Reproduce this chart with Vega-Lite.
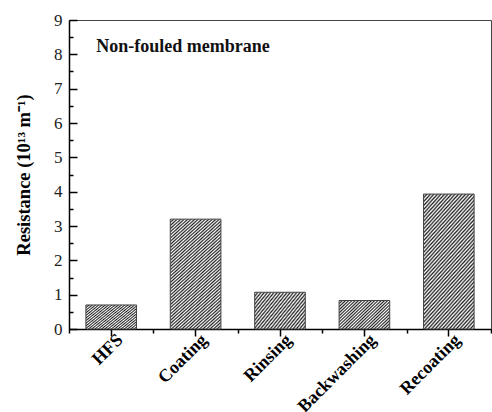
{
  "$schema": "https://vega.github.io/schema/vega-lite/v6.json",
  "width": 422,
  "height": 309,
  "autosize": "none",
  "padding": {"left": 69, "top": 20, "right": 1, "bottom": 83},
  "config": {"view": {"stroke": "#444", "strokeWidth": 1}, "font": "Liberation Serif"},
  "data": {"values": [
    {"step": "HFS", "resistance": 0.7},
    {"step": "Coating", "resistance": 3.2},
    {"step": "Rinsing", "resistance": 1.07},
    {"step": "Backwashing", "resistance": 0.83},
    {"step": "Recoating", "resistance": 3.93}
  ]},
  "layer": [
    {
      "mark": {"type": "bar", "opacity": 0, "width": {"band": 0.6}},
      "encoding": {
        "x": {"field": "step", "type": "nominal", "sort": null,
          "scale": {"paddingInner": 0, "paddingOuter": 0},
          "axis": {"title": null, "orient": "bottom", "labels": false, "domain": false, "ticks": true, "tickBand": "extent", "tickSize": 4, "tickColor": "#000", "tickWidth": 1.5, "grid": false}},
        "y": {"field": "resistance", "type": "quantitative", "scale": {"domain": [0, 9], "nice": false},
          "axis": {"title": null, "orient": "left", "values": [0.5,1.5,2.5,3.5,4.5,5.5,6.5,7.5,8.5], "labels": false, "domain": false, "ticks": true, "tickSize": -4, "tickColor": "#000", "tickWidth": 1.5, "grid": false}}
      }
    },
    {
      "mark": {"type": "bar", "stroke": "#444", "strokeWidth": 1, "width": {"band": 0.6}},
      "encoding": {
        "x": {"field": "step", "type": "nominal", "sort": null,
          "axis": {"title": null, "orient": "bottom", "labelAngle": -45, "labelAlign": "right", "labelBaseline": "middle", "labelOffset": 9, "labelFont": "Liberation Serif", "labelFontWeight": "bold", "labelFontSize": 18, "labelColor": "#000", "ticks": true, "tickSize": 7, "tickColor": "#000", "tickWidth": 1.5, "domainColor": "#000", "domainWidth": 1.5, "labelPadding": 1, "grid": false}},
        "y": {"field": "resistance", "type": "quantitative",
          "axis": {"title": "Resistance (10¹³ m⁻¹)", "orient": "left", "values": [0,1,2,3,4,5,6,7,8,9], "format": "d",
            "ticks": true, "tickSize": -8, "tickColor": "#000", "tickWidth": 1.5, "domainColor": "#000", "domainWidth": 1.5,
            "labelFont": "Liberation Serif", "labelFontSize": 17, "labelColor": "#222", "labelPadding": 15,
            "labelFlush": false, "labelOverlap": false, "labelBound": false,
            "titleFont": "Liberation Serif", "titleFontSize": 18.5, "titleFontWeight": "bold", "titleColor": "#000", "titlePadding": 20, "grid": false}},
        "fill": {
          "condition": {"test": "datum.resistance > 2", "value": {"gradient": "linear", "x1": 0, "y1": 0, "x2": 0.51, "y2": 1.229, "stops": [
            {"offset":0,"color":"#222"},{"offset":0.01,"color":"#fff"},{"offset":0.02,"color":"#222"},{"offset":0.03,"color":"#fff"},{"offset":0.04,"color":"#222"},{"offset":0.05,"color":"#fff"},{"offset":0.06,"color":"#222"},{"offset":0.07,"color":"#fff"},{"offset":0.08,"color":"#222"},{"offset":0.09,"color":"#fff"},
            {"offset":0.1,"color":"#222"},{"offset":0.11,"color":"#fff"},{"offset":0.12,"color":"#222"},{"offset":0.13,"color":"#fff"},{"offset":0.14,"color":"#222"},{"offset":0.15,"color":"#fff"},{"offset":0.16,"color":"#222"},{"offset":0.17,"color":"#fff"},{"offset":0.18,"color":"#222"},{"offset":0.19,"color":"#fff"},
            {"offset":0.2,"color":"#222"},{"offset":0.21,"color":"#fff"},{"offset":0.22,"color":"#222"},{"offset":0.23,"color":"#fff"},{"offset":0.24,"color":"#222"},{"offset":0.25,"color":"#fff"},{"offset":0.26,"color":"#222"},{"offset":0.27,"color":"#fff"},{"offset":0.28,"color":"#222"},{"offset":0.29,"color":"#fff"},
            {"offset":0.3,"color":"#222"},{"offset":0.31,"color":"#fff"},{"offset":0.32,"color":"#222"},{"offset":0.33,"color":"#fff"},{"offset":0.34,"color":"#222"},{"offset":0.35,"color":"#fff"},{"offset":0.36,"color":"#222"},{"offset":0.37,"color":"#fff"},{"offset":0.38,"color":"#222"},{"offset":0.39,"color":"#fff"},
            {"offset":0.4,"color":"#222"},{"offset":0.41,"color":"#fff"},{"offset":0.42,"color":"#222"},{"offset":0.43,"color":"#fff"},{"offset":0.44,"color":"#222"},{"offset":0.45,"color":"#fff"},{"offset":0.46,"color":"#222"},{"offset":0.47,"color":"#fff"},{"offset":0.48,"color":"#222"},{"offset":0.49,"color":"#fff"},
            {"offset":0.5,"color":"#222"},{"offset":0.51,"color":"#fff"},{"offset":0.52,"color":"#222"},{"offset":0.53,"color":"#fff"},{"offset":0.54,"color":"#222"},{"offset":0.55,"color":"#fff"},{"offset":0.56,"color":"#222"},{"offset":0.57,"color":"#fff"},{"offset":0.58,"color":"#222"},{"offset":0.59,"color":"#fff"},
            {"offset":0.6,"color":"#222"},{"offset":0.61,"color":"#fff"},{"offset":0.62,"color":"#222"},{"offset":0.63,"color":"#fff"},{"offset":0.64,"color":"#222"},{"offset":0.65,"color":"#fff"},{"offset":0.66,"color":"#222"},{"offset":0.67,"color":"#fff"},{"offset":0.68,"color":"#222"},{"offset":0.69,"color":"#fff"},
            {"offset":0.7,"color":"#222"},{"offset":0.71,"color":"#fff"},{"offset":0.72,"color":"#222"},{"offset":0.73,"color":"#fff"},{"offset":0.74,"color":"#222"},{"offset":0.75,"color":"#fff"},{"offset":0.76,"color":"#222"},{"offset":0.77,"color":"#fff"},{"offset":0.78,"color":"#222"},{"offset":0.79,"color":"#fff"},
            {"offset":0.8,"color":"#222"},{"offset":0.81,"color":"#fff"},{"offset":0.82,"color":"#222"},{"offset":0.83,"color":"#fff"},{"offset":0.84,"color":"#222"},{"offset":0.85,"color":"#fff"},{"offset":0.86,"color":"#222"},{"offset":0.87,"color":"#fff"},{"offset":0.88,"color":"#222"},{"offset":0.89,"color":"#fff"},
            {"offset":0.9,"color":"#222"},{"offset":0.91,"color":"#fff"},{"offset":0.92,"color":"#222"},{"offset":0.93,"color":"#fff"},{"offset":0.94,"color":"#222"},{"offset":0.95,"color":"#fff"},{"offset":0.96,"color":"#222"},{"offset":0.97,"color":"#fff"},{"offset":0.98,"color":"#222"},{"offset":0.99,"color":"#fff"},
            {"offset":1,"color":"#222"}
          ]}},
          "value": {"gradient": "linear", "x1": 0, "y1": 0, "x2": 1.19, "y2": 0.702, "stops": [
            {"offset":0,"color":"#222"},{"offset":0.02,"color":"#fff"},{"offset":0.04,"color":"#222"},{"offset":0.06,"color":"#fff"},{"offset":0.08,"color":"#222"},
            {"offset":0.1,"color":"#fff"},{"offset":0.12,"color":"#222"},{"offset":0.14,"color":"#fff"},{"offset":0.16,"color":"#222"},{"offset":0.18,"color":"#fff"},
            {"offset":0.2,"color":"#222"},{"offset":0.22,"color":"#fff"},{"offset":0.24,"color":"#222"},{"offset":0.26,"color":"#fff"},{"offset":0.28,"color":"#222"},
            {"offset":0.3,"color":"#fff"},{"offset":0.32,"color":"#222"},{"offset":0.34,"color":"#fff"},{"offset":0.36,"color":"#222"},{"offset":0.38,"color":"#fff"},
            {"offset":0.4,"color":"#222"},{"offset":0.42,"color":"#fff"},{"offset":0.44,"color":"#222"},{"offset":0.46,"color":"#fff"},{"offset":0.48,"color":"#222"},
            {"offset":0.5,"color":"#fff"},{"offset":0.52,"color":"#222"},{"offset":0.54,"color":"#fff"},{"offset":0.56,"color":"#222"},{"offset":0.58,"color":"#fff"},
            {"offset":0.6,"color":"#222"},{"offset":0.62,"color":"#fff"},{"offset":0.64,"color":"#222"},{"offset":0.66,"color":"#fff"},{"offset":0.68,"color":"#222"},
            {"offset":0.7,"color":"#fff"},{"offset":0.72,"color":"#222"},{"offset":0.74,"color":"#fff"},{"offset":0.76,"color":"#222"},{"offset":0.78,"color":"#fff"},
            {"offset":0.8,"color":"#222"},{"offset":0.82,"color":"#fff"},{"offset":0.84,"color":"#222"},{"offset":0.86,"color":"#fff"},{"offset":0.88,"color":"#222"},
            {"offset":0.9,"color":"#fff"},{"offset":0.92,"color":"#222"},{"offset":0.94,"color":"#fff"},{"offset":0.96,"color":"#222"},{"offset":0.98,"color":"#fff"},
            {"offset":1,"color":"#222"}
          ]}
        }
      }
    },
    {
      "data": {"values": [{"note": "Non-fouled membrane"}]},
      "mark": {"type": "text", "align": "left", "baseline": "alphabetic", "font": "Liberation Serif", "fontSize": 18, "fontWeight": "bold", "color": "#111", "dx": -15},
      "encoding": {
        "text": {"field": "note"},
        "x": {"datum": "HFS", "type": "nominal", "axis": null},
        "y": {"datum": 8.07, "type": "quantitative", "axis": null}
      }
    }
  ],
  "resolve": {"axis": {"x": "independent", "y": "independent"}}
}
